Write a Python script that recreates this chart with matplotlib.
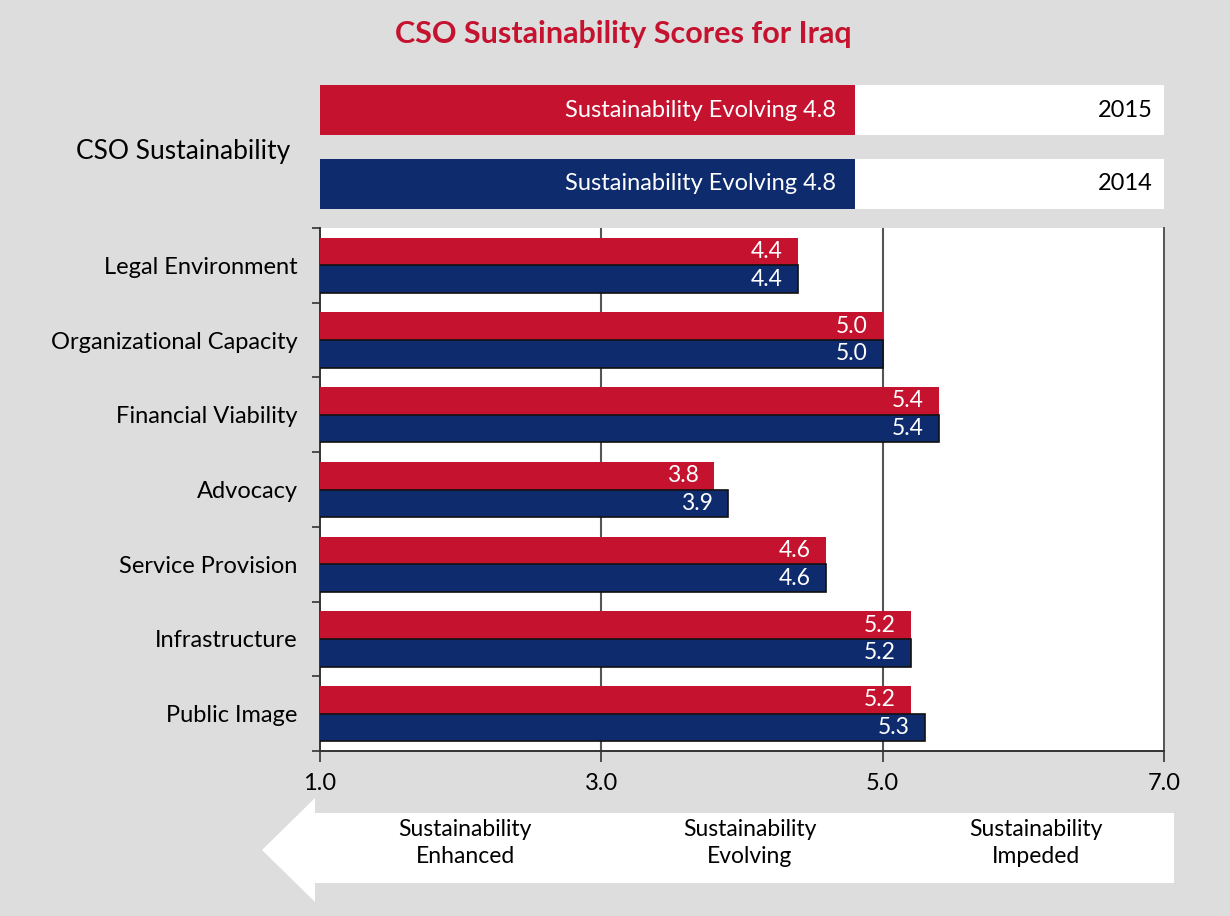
import matplotlib
matplotlib.use("Agg")
import matplotlib.pyplot as plt
from matplotlib.patches import Polygon

plt.rcParams['font.family'] = ['Lato', 'DejaVu Sans']

# ---------------- data ----------------
title = "CSO Sustainability Scores for Iraq"
categories = ["Legal Environment", "Organizational Capacity", "Financial Viability",
              "Advocacy", "Service Provision", "Infrastructure", "Public Image"]
scores_2015 = [4.4, 5.0, 5.4, 3.8, 4.6, 5.2, 5.2]
scores_2014 = [4.4, 5.0, 5.4, 3.9, 4.6, 5.2, 5.3]
overall_years = ["2015", "2014"]
overall_scores = [4.8, 4.8]
overall_text = "Sustainability Evolving"
overall_label = "CSO Sustainability"
x_ticks = [1.0, 3.0, 5.0, 7.0]
scale_labels = ["Sustainability\nEnhanced", "Sustainability\nEvolving", "Sustainability\nImpeded"]

RED = "#C4122F"
BLUE = "#0E2B6E"
BG = "#DDDDDD"
W, H = 1230, 916

fig = plt.figure(figsize=(W / 100, H / 100), dpi=100, facecolor=BG)

def fx(px):
    return px / W

def fy(py):
    return 1 - py / H

# ---------------- title ----------------
fig.text(fx(623), fy(34), title, ha="center", va="center", fontsize=22,
         fontweight="bold", color=RED)

# ---------------- top overall panel ----------------
L, R = 320, 1164
axt = fig.add_axes([fx(L), fy(209), fx(R) - fx(L), (209 - 85) / H])
axt.set_xlim(1, 7)
axt.set_ylim(209, 85)
tops = [85, 159]
bh = 50
for yr, sc, t0, col in zip(overall_years, overall_scores, tops, [RED, BLUE]):
    axt.barh(t0, 7, height=bh, left=0, align="edge", color="white", edgecolor="none")
    axt.barh(t0, sc, height=bh, left=0, align="edge", color=col, edgecolor="none")
    axt.annotate(f"{overall_text} {sc:.1f}", xy=(sc, t0 + bh / 2), xytext=(-13, 0),
                 textcoords="offset points", ha="right", va="center",
                 color="white", fontsize=17)
    axt.annotate(yr, xy=(7, t0 + bh / 2), xytext=(-8, 0), textcoords="offset points",
                 ha="right", va="center", color="black", fontsize=17)
axt.axis("off")
fig.text(fx(183), fy(152), overall_label, ha="center", va="center", fontsize=19,
         color="black")

# ---------------- main chart ----------------
ax = fig.add_axes([fx(L), fy(751), fx(R) - fx(L), (751 - 228) / H])
ax.set_facecolor("white")
n = len(categories)
pos = list(range(n))
bw = 0.37
ax.barh([p - bw / 2 for p in pos], scores_2015, height=bw, left=0, color=RED,
        edgecolor="none", zorder=3)
ax.barh([p + bw / 2 for p in pos], scores_2014, height=bw, left=0, color=BLUE,
        edgecolor="#111111", linewidth=1.2, zorder=3)
for p, v15, v14 in zip(pos, scores_2015, scores_2014):
    ax.annotate(f"{v15:.1f}", xy=(v15, p - bw / 2), xytext=(-11, 0),
                textcoords="offset points", ha="right", va="center",
                color="white", fontsize=16.5, zorder=4)
    ax.annotate(f"{v14:.1f}", xy=(v14, p + bw / 2), xytext=(-11, 0),
                textcoords="offset points", ha="right", va="center",
                color="white", fontsize=16.5, zorder=4)

ax.set_xlim(1, 7)
ax.set_ylim(n - 0.5, -0.5)
ax.set_xticks(x_ticks)
ax.set_xticklabels([f"{t:.1f}" for t in x_ticks], fontsize=17)
ax.set_yticks(pos)
ax.set_yticklabels(categories, fontsize=17)
ax.set_yticks([p - 0.5 for p in range(n + 1)], minor=True)
ax.tick_params(axis="y", which="major", length=0, pad=16)
ax.tick_params(axis="y", which="minor", length=6, width=1.2, color="#333333",
               direction="out")
ax.tick_params(axis="x", which="major", length=8, width=1.2, color="#333333",
               direction="out", pad=8)
for x in x_ticks[1:-1]:
    ax.axvline(x, color="#555555", linewidth=1.5, zorder=1)
for s in ["left", "bottom", "right"]:
    ax.spines[s].set_color("#333333")
    ax.spines[s].set_linewidth(1.4)
ax.spines["right"].set_color("#555555")
ax.spines["top"].set_visible(False)

# ---------------- bottom arrow ----------------
arrow_px = [(262, 850), (315, 798), (315, 813), (1174, 813), (1174, 883),
            (315, 883), (315, 902)]
arrow = Polygon([(fx(x), fy(y)) for x, y in arrow_px], closed=True,
                transform=fig.transFigure, facecolor="white", edgecolor="none")
fig.patches.append(arrow)
for cx, lab in zip([465, 750, 1036], scale_labels):
    fig.text(fx(cx), fy(843), lab, ha="center", va="center", fontsize=16.5,
             color="black", linespacing=1.35)

fig.savefig("out.png", dpi=100, facecolor=BG)
